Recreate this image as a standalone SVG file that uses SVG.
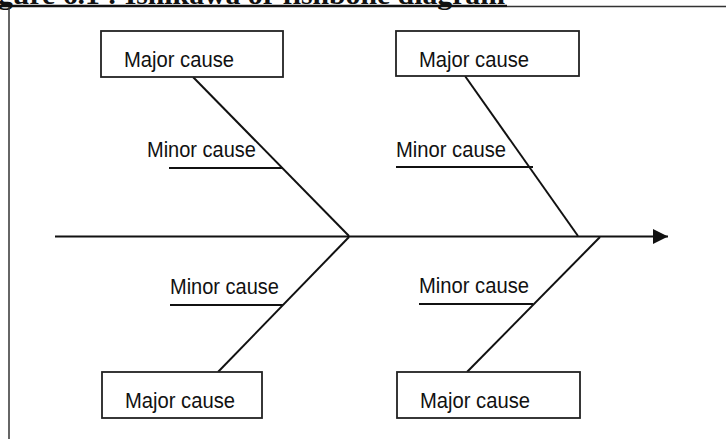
<svg xmlns="http://www.w3.org/2000/svg" width="726" height="439" viewBox="0 0 726 439">
<style>
.box{fill:#fff;stroke:#222;stroke-width:1.8}
.ln{stroke:#111;stroke-width:2;fill:none}
.lbl{font-family:"Liberation Sans",Arial,sans-serif;font-size:22px;fill:#111}
.title{font-family:"Liberation Serif","Times New Roman",serif;font-size:28px;font-weight:bold;fill:#111}
</style>
<defs>
<marker id="arr" markerWidth="16" markerHeight="16" refX="15" refY="7.5" orient="auto" markerUnits="userSpaceOnUse">
<path d="M0,0 L15,7.5 L0,15 Z" fill="#111"/>
</marker>
</defs>
<rect width="726" height="439" fill="#fff"/>
<g id="frame">
<text class="title" x="-2" y="4" textLength="507" lengthAdjust="spacingAndGlyphs">gure 6.1 : Ishikawa or fishbone diagram</text>
<line x1="0" y1="6" x2="507" y2="6" stroke="#111" stroke-width="2.5"/>
<line x1="507" y1="6.5" x2="726" y2="6.5" stroke="#333" stroke-width="1.5"/>
<line x1="9" y1="7" x2="9" y2="439" stroke="#333" stroke-width="1.5"/>
</g>
<g id="connectors">
<line class="ln" x1="55" y1="236.5" x2="668" y2="236.5" marker-end="url(#arr)"/>
<line class="ln" x1="193" y1="77" x2="349" y2="236"/>
<line class="ln" x1="169" y1="168" x2="283" y2="168"/>
<line class="ln" x1="349" y1="237" x2="218" y2="372"/>
<line class="ln" x1="170" y1="305" x2="283" y2="305"/>
<line class="ln" x1="465" y1="76" x2="578" y2="236"/>
<line class="ln" x1="396" y1="167" x2="533" y2="167"/>
<line class="ln" x1="600" y1="237" x2="467" y2="372"/>
<line class="ln" x1="419" y1="304" x2="533" y2="304"/>
</g>
<g id="major-top-left">
<rect class="box" x="101" y="31" width="182" height="46"/>
<text class="lbl" x="124" y="67" textLength="110" lengthAdjust="spacingAndGlyphs">Major cause</text>
</g>
<g id="minor-top-left">
<text class="lbl" x="147" y="157" textLength="109" lengthAdjust="spacingAndGlyphs">Minor cause</text>
</g>
<g id="major-bottom-left">
<rect class="box" x="102" y="372" width="160" height="46"/>
<text class="lbl" x="125" y="408" textLength="110" lengthAdjust="spacingAndGlyphs">Major cause</text>
</g>
<g id="minor-bottom-left">
<text class="lbl" x="170" y="294" textLength="109" lengthAdjust="spacingAndGlyphs">Minor cause</text>
</g>
<g id="major-top-right">
<rect class="box" x="396" y="31" width="183" height="45"/>
<text class="lbl" x="419" y="67" textLength="110" lengthAdjust="spacingAndGlyphs">Major cause</text>
</g>
<g id="minor-top-right">
<text class="lbl" x="396" y="157" textLength="110" lengthAdjust="spacingAndGlyphs">Minor cause</text>
</g>
<g id="major-bottom-right">
<rect class="box" x="397" y="372" width="183" height="46"/>
<text class="lbl" x="420" y="408" textLength="110" lengthAdjust="spacingAndGlyphs">Major cause</text>
</g>
<g id="minor-bottom-right">
<text class="lbl" x="419" y="293" textLength="110" lengthAdjust="spacingAndGlyphs">Minor cause</text>
</g>
</svg>
